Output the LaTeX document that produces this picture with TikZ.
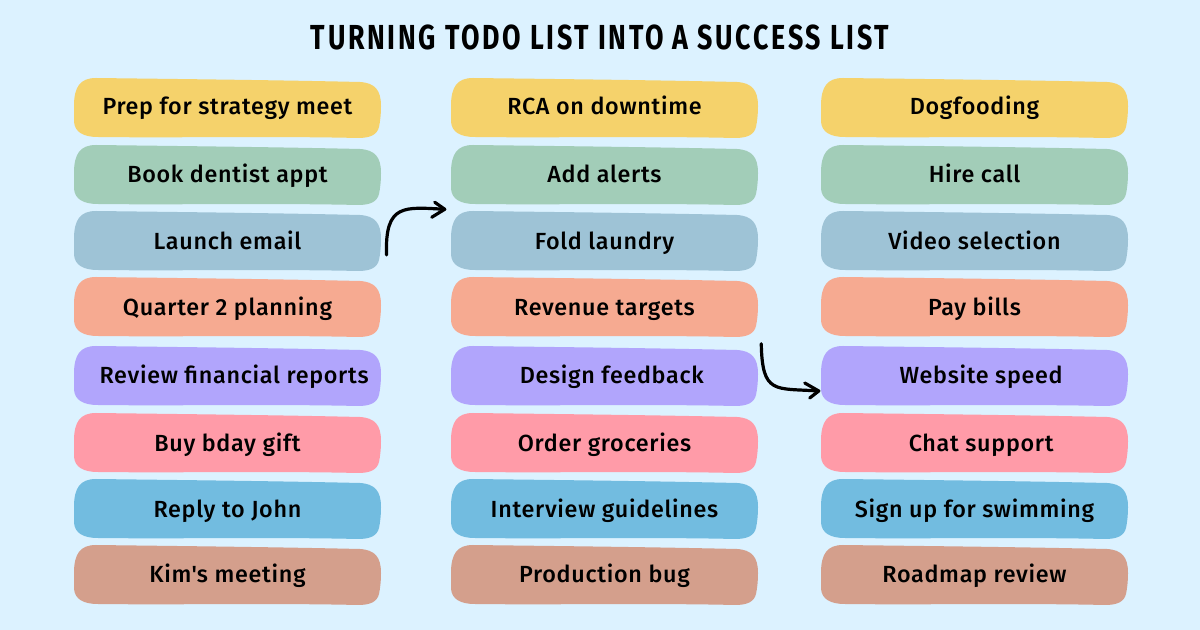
\documentclass[tikz,border=0pt]{standalone}
\usepackage{fontspec}
\setmainfont{Fira Sans}[UprightFont=* Medium,BoldFont=* Bold,LetterSpace=3]
\newfontfamily\straightfont{Fira Sans}[UprightFont=* Medium,LetterSpace=3]
\definecolor{bgc}{HTML}{DCF2FF}
\definecolor{c1}{HTML}{F5D26B}
\definecolor{c2}{HTML}{A2CDB8}
\definecolor{c3}{HTML}{9EC3D6}
\definecolor{c4}{HTML}{F6AA91}
\definecolor{c5}{HTML}{B1A5FC}
\definecolor{c6}{HTML}{FF9BA8}
\definecolor{c7}{HTML}{72BCE0}
\definecolor{c8}{HTML}{D49F8C}
\tikzset{
  x=0.75pt,y=-0.75pt,
  itemlabel/.style={inner sep=0pt,minimum width=230.25pt,minimum height=45pt,text height=14pt,text depth=4pt,text=black,font=\fontsize{17.5}{20}\selectfont},
  arrowline/.style={draw=black,line width=2.4pt,line cap=round,line join=round},
  titlelabel/.style={inner sep=0pt,text=black}
}
% name, left, top, colour, text offset (pt), text, raise (pt)
\newcommand{\blobitem}[7]{%
  \fill[#4,shift={(#2,#3)}] (0,28) .. controls (0,9) and (6,0) .. (22,0)
    .. controls (100,1) and (200,2) .. (286,4)
    .. controls (301,5) and (307,12) .. (307,28)
    .. controls (307,37) and (306,44) .. (305,49)
    .. controls (303,57) and (296,60) .. (284,60)
    .. controls (200,58) and (100,60) .. (24,59)
    .. controls (9,59) and (1,54) .. (0,44) -- cycle;
  \node[itemlabel] (#1) at ({#2+153.5},{#3+30}) {\hspace*{#5pt}\raisebox{#7pt}{#6}};%
}
\begin{document}
\begin{tikzpicture}
\useasboundingbox (0,0) rectangle (1200,630);
\fill[bgc] (0,0) rectangle (1200,630);
\node[titlelabel] (title) at (600,37) {\resizebox{433.5pt}{18.5pt}{\bfseries\addfontfeatures{LetterSpace=10}TURNING TODO LIST INTO A SUCCESS LIST}};

\blobitem{a1}{74}{78}{c1}{0}{Prep for strategy meet}{0}
\blobitem{a2}{74}{145}{c2}{0}{Book dentist appt}{-0.75}
\blobitem{a3}{74}{211}{c3}{0}{Launch email}{-1.75}
\blobitem{a4}{74}{277}{c4}{0}{Quarter 2 planning}{-1.75}
\blobitem{a5}{74}{346}{c5}{10}{Review financial reports}{-0.5}
\blobitem{a6}{74}{413}{c6}{0}{Buy bday gift}{-1.75}
\blobitem{a7}{74}{479}{c7}{0}{Reply to John}{-1.75}
\blobitem{a8}{74}{545}{c8}{0}{Kim{\straightfont'}s meeting}{-1}

\blobitem{b1}{451}{78}{c1}{0}{RCA on downtime}{0}
\blobitem{b2}{451}{145}{c2}{0}{Add alerts}{-0.75}
\blobitem{b3}{451}{211}{c3}{0}{Fold laundry}{-1.75}
\blobitem{b4}{451}{277}{c4}{0}{Revenue targets}{-1.75}
\blobitem{b5}{451}{346}{c5}{11}{Design feedback}{-0.5}
\blobitem{b6}{451}{413}{c6}{0}{Order groceries}{-1.75}
\blobitem{b7}{451}{479}{c7}{0}{Interview guidelines}{-1.75}
\blobitem{b8}{451}{545}{c8}{0}{Production bug}{-1}

\blobitem{d1}{821}{78}{c1}{0}{Dogfooding}{0}
\blobitem{d2}{821}{145}{c2}{0}{Hire call}{-0.75}
\blobitem{d3}{821}{211}{c3}{0}{Video selection}{-1.75}
\blobitem{d4}{821}{277}{c4}{0}{Pay bills}{-1.75}
\blobitem{d5}{821}{346}{c5}{10}{Website speed}{-0.5}
\blobitem{d6}{821}{413}{c6}{10}{Chat support}{-1.75}
\blobitem{d7}{821}{479}{c7}{0}{Sign up for swimming}{-1.75}
\blobitem{d8}{821}{545}{c8}{0}{Roadmap review}{-1}

\coordinate (s1) at ([xshift=4pt,yshift=-10.5pt]a3.east);
\coordinate (e1) at ([xshift=-4.5pt,yshift=-3pt]b2.south west);
\coordinate (s2) at ([xshift=2.25pt,yshift=1.5pt]b5.north east);
\coordinate (e2) at ([xshift=-1.5pt,yshift=-11.25pt]d5.west);
\draw[arrowline] (s1) .. controls +(-2,-52) and +(-40,-2) .. (e1);
\draw[arrowline] ([shift={(-10,-7)}]e1) -- (e1) -- ([shift={(-13,8)}]e1);
\draw[arrowline] (s2) .. controls +(1,51) and +(-44,-3) .. (e2);
\draw[arrowline] ([shift={(-14,-8)}]e2) -- (e2) -- ([shift={(-9,7)}]e2);
\end{tikzpicture}
\end{document}
